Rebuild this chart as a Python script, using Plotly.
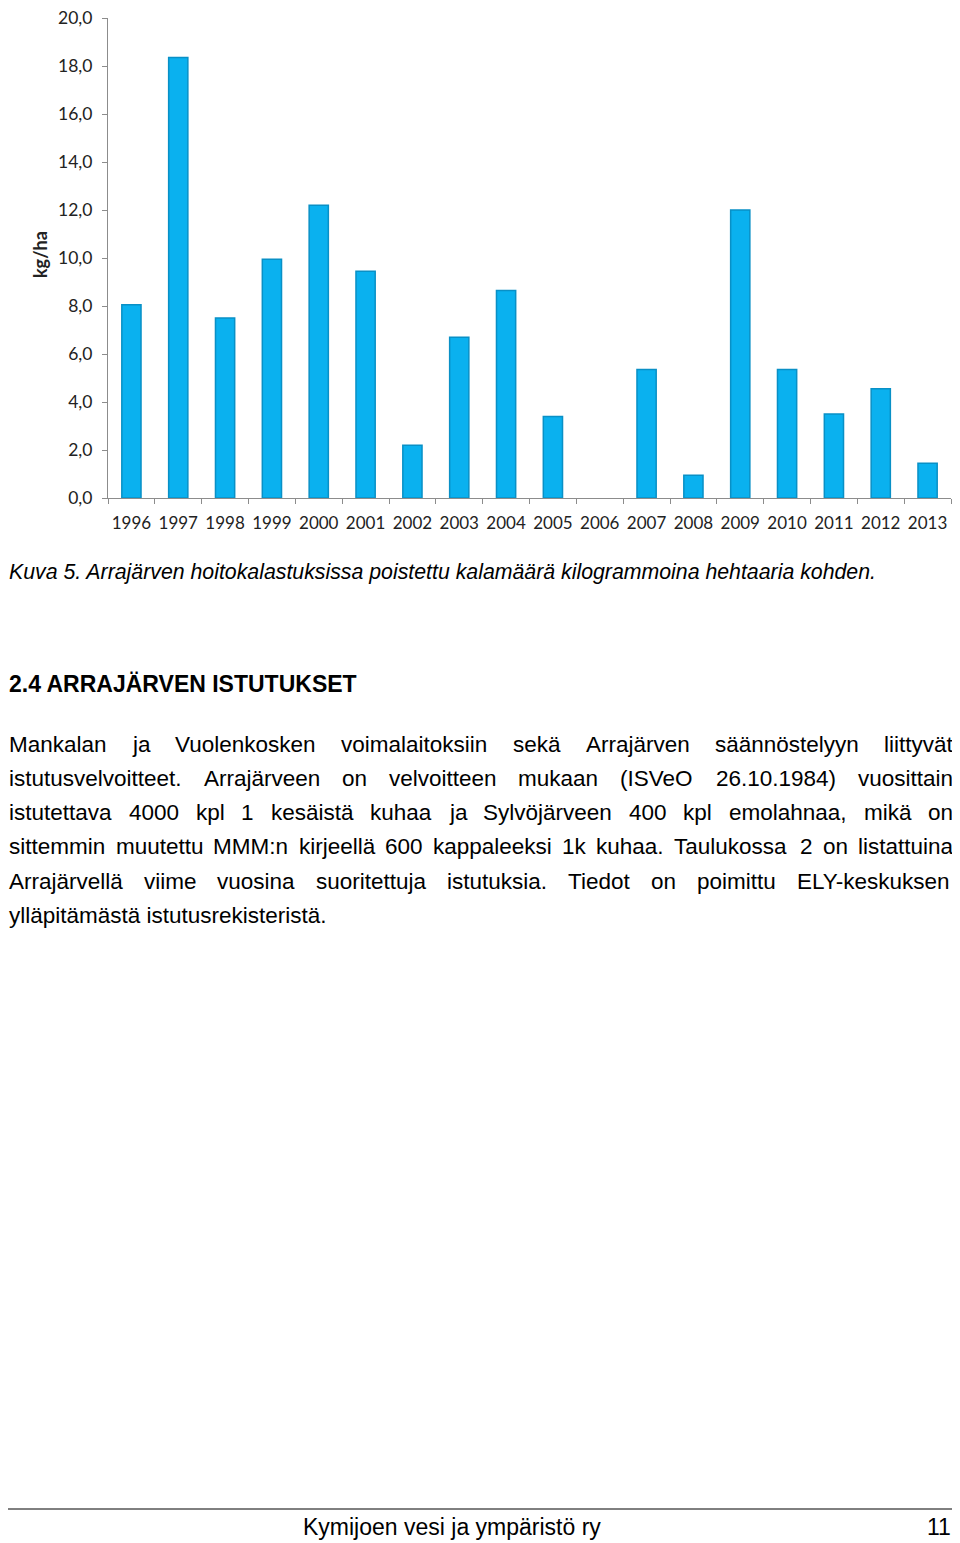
import plotly.graph_objects as go

# the page body adds an 8px margin, so the figure is made smaller and offset
OFF = 8
FW, FH = 960 - OFF, 1543 - OFF

years = [str(y) for y in range(1996, 2014)]
kg_ha = [8.05, 18.35, 7.5, 9.95, 12.2, 9.45, 2.2, 6.7, 8.65,
         3.4, None, 5.35, 0.95, 12.0, 5.35, 3.5, 4.55, 1.45]
y_ticks = [0, 2, 4, 6, 8, 10, 12, 14, 16, 18, 20]

caption = "Kuva 5. Arrajärven hoitokalastuksissa poistettu kalamäärä kilogrammoina hehtaaria kohden."
heading = "2.4 ARRAJÄRVEN ISTUTUKSET"
body_lines = [
    "Mankalan ja Vuolenkosken voimalaitoksiin sekä Arrajärven säännöstelyyn liittyvät",
    "istutusvelvoitteet. Arrajärveen on velvoitteen mukaan (ISVeO 26.10.1984) vuosittain",
    "istutettava 4000 kpl 1 kesäistä kuhaa ja Sylvöjärveen 400 kpl emolahnaa, mikä on",
    "sittemmin muutettu MMM:n kirjeellä 600 kappaleeksi 1k kuhaa. Taulukossa 2 on listattuina",
    "Arrajärvellä viime vuosina suoritettuja istutuksia. Tiedot on poimittu ELY-keskuksen",
    "ylläpitämästä istutusrekisteristä.",
]
footer = "Kymijoen vesi ja ympäristö ry"
page_no = "11"

# Arial / Liberation Sans advance widths (1/1000 em), used for justification
CW = dict(zip("abcdefghijklmnopqrstuvwxyzäöå",
              [556, 556, 500, 556, 556, 278, 556, 556, 222, 222, 500, 222, 833,
               556, 556, 556, 556, 333, 500, 278, 556, 500, 722, 500, 500, 500,
               556, 556, 556]))
CW.update(zip("ABCDEFGHIJKLMNOPQRSTUVWXYZ",
              [667, 667, 722, 722, 667, 611, 778, 722, 278, 500, 667, 556, 833,
               722, 778, 667, 778, 722, 667, 611, 722, 667, 944, 667, 667, 611]))
CW.update({c: 556 for c in "0123456789"})
CW.update({" ": 278, ".": 278, ",": 278, ":": 278, "(": 333, ")": 333, "-": 333})


def text_w(s, size):
    return sum(CW.get(c, 556) for c in s) * size / 1000.0


def px(x):
    return (x - OFF) / FW


def py(y):
    return 1 - (y - OFF) / FH


fig = go.Figure()
fig.add_trace(go.Bar(
    x=years, y=kg_ha,
    marker=dict(color="#0AB1EF", line=dict(color="#0990C6", width=1.5)),
    hoverinfo="skip",
))

ann = []
ann.append(dict(x=px(40), y=py(255), text="<b>kg/ha</b>", textangle=-90,
                xanchor="center",
                font=dict(family="Lato", size=18, color="#222222")))
ann.append(dict(x=px(OFF - 1), y=py(572), text="<i>" + caption + "</i>", xanchor="left",
                font=dict(family="Liberation Sans", size=21.3, color="#000000")))
ann.append(dict(x=px(OFF - 1), y=py(684), text="<b>" + heading + "</b>", xanchor="left",
                font=dict(family="Liberation Sans", size=23, color="#000000")))

fs = 22.5
left, right = OFF, 952
line_y = [744, 778, 812, 846, 881, 915]
for i, line in enumerate(body_lines):
    words = line.split(" ")
    if i == len(body_lines) - 1:
        ann.append(dict(x=px(left - 1), y=py(line_y[i]), text=line, xanchor="left",
                        font=dict(family="Liberation Sans", size=fs, color="#000000")))
        continue
    widths = [text_w(w, fs) for w in words]
    gap = (right - left - sum(widths)) / (len(words) - 1)
    xcur = left
    for w, ww in zip(words, widths):
        ann.append(dict(x=px(xcur - 1), y=py(line_y[i]), text=w, xanchor="left",
                        font=dict(family="Liberation Sans", size=fs, color="#000000")))
        xcur += ww + gap

ann.append(dict(x=px(452), y=py(1527), text=footer, xanchor="center",
                font=dict(family="Liberation Sans", size=23, color="#000000")))
ann.append(dict(x=px(953), y=py(1527), text=page_no, xanchor="right",
                font=dict(family="Liberation Sans", size=23, color="#000000")))

for a in ann:
    a.update(xref="paper", yref="paper", showarrow=False, yanchor="middle")

fig.add_shape(type="line", xref="paper", yref="paper",
              x0=0, x1=1, y0=py(1509), y1=py(1509),
              line=dict(color="#000000", width=1))

fig.update_layout(
    width=FW, height=FH,
    margin=dict(l=0, r=0, t=0, b=0, autoexpand=False),
    paper_bgcolor="white", plot_bgcolor="white",
    separators=", ",
    showlegend=False,
    bargap=0.59,
    annotations=ann,
    xaxis=dict(
        domain=[px(108), px(951)],
        type="category", automargin=False, tickangle=0,
        showline=True, linecolor="#8C8C8C", linewidth=1,
        ticks="outside", tickson="boundaries", ticklen=5, tickcolor="#8C8C8C",
        ticklabelstandoff=10, ticklabeloverflow="allow",
        tickfont=dict(family="Lato", size=17, color="#222222"),
        showgrid=False,
    ),
    yaxis=dict(
        domain=[py(498), py(18)],
        range=[0, 20], automargin=False,
        tickvals=y_ticks, tickformat=".1f",
        showline=True, linecolor="#8C8C8C", linewidth=1,
        ticks="outside", ticklen=5, tickcolor="#8C8C8C",
        ticklabelstandoff=6, ticklabeloverflow="allow",
        tickfont=dict(family="Lato", size=17.5, color="#222222"),
        showgrid=False, zeroline=False,
    ),
)

fig.write_html("out.html")
